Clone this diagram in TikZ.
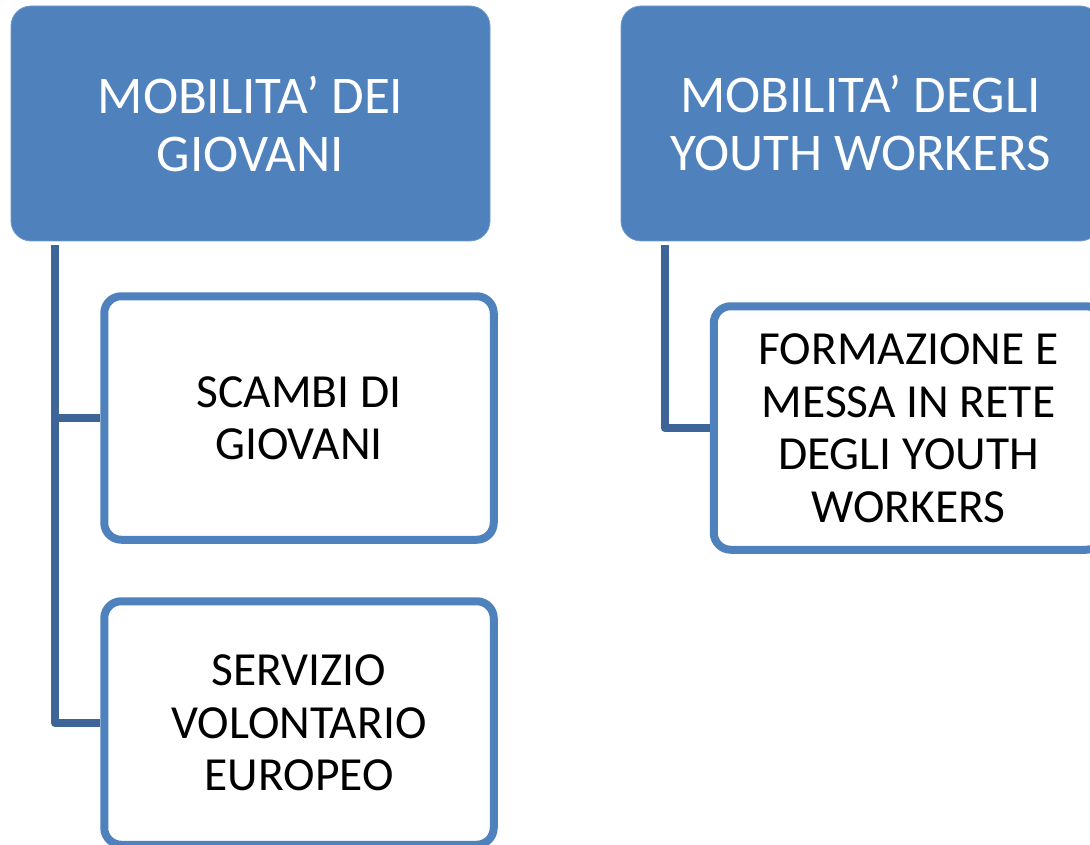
\documentclass[tikz,border=0pt]{standalone}
\usepackage{fontspec}
\setmainfont{Carlito}
\usetikzlibrary{positioning}

\definecolor{officeblue}{HTML}{4F81BD}
\definecolor{linkblue}{HTML}{3E6597}

\begin{document}
\begin{tikzpicture}[
    x=1pt, y=-1pt,
    % Styles
    header/.style={rounded corners=20pt, fill=officeblue, draw=officeblue!80!white, line width=0.8pt,
                   minimum width=479pt, minimum height=235pt, align=center, text=white,
                   font=\fontsize{53}{58}\selectfont},   % top level boxes
    item/.style={rounded corners=17pt, fill=white, draw=officeblue, line width=8pt,
                 minimum width=389.5pt, minimum height=243.5pt, align=center, text=black,
                 font=\fontsize{47.5}{52.5}\selectfont},   % second level boxes
    link/.style={draw=linkblue, line width=8pt, line join=round}   % tree connectors
]

  % Page frame
  \useasboundingbox (0,0) rectangle (1090,845);
  \clip (0,0) rectangle (1090,845);

  % Top level
  \node[header] (giovani) at (250.5,123.5) {MOBILITA’ DEI\\GIOVANI};
  \node[header] (workers) at (860.5,123.5) {MOBILITA’ DEGLI\\YOUTH WORKERS};

  % Second level
  \node[item] (scambi)   at (299,418)   {SCAMBI DI\\GIOVANI};
  \node[item] (servizio) at (299,723)   {SERVIZIO\\VOLONTARIO\\EUROPEO};
  \node[item] (rete)     at (908.5,428) {FORMAZIONE E\\MESSA IN RETE\\DEGLI YOUTH\\WORKERS};

  % Connectors
  \draw[link] ([xshift=44.5pt,yshift=-4pt]giovani.south west) |- (scambi.west);
  \draw[link] ([xshift=44.5pt,yshift=-4pt]giovani.south west) |- (servizio.west);
  \draw[link] ([xshift=44pt,yshift=-4pt]workers.south west) |- (rete.west);

\end{tikzpicture}
\end{document}
